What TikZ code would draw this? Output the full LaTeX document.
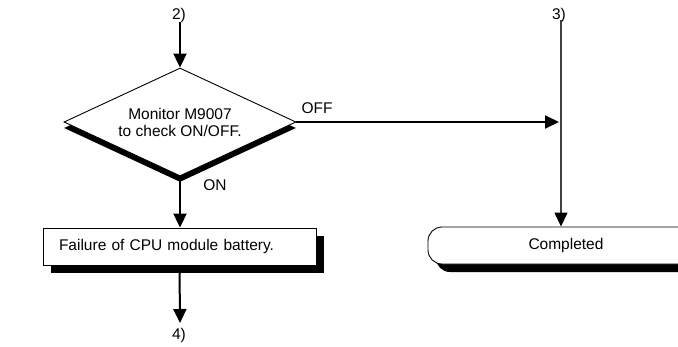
\documentclass[tikz,border=0pt]{standalone}
\usepackage{fontspec}
\setmainfont{Liberation Sans}
\usetikzlibrary{arrows.meta,shapes.geometric,shadows,calc}
\tikzset{
  flow/.style={line width=2pt,-{Triangle[length=14pt,width=13pt]}},
  thinflow/.style={line width=1.4pt,draw=black!75,-{Triangle[length=14pt,width=13pt,fill=black,color=black]}},
  txt/.style={font=\fontsize{15.5}{17}\selectfont},
  lbl/.style={txt,inner sep=0pt},
  decision/.style={diamond,aspect=2.15,draw,line width=0.9pt,fill=white,inner sep=0pt,
    minimum width=232pt,minimum height=108pt,align=center,txt,
    drop shadow={shadow xshift=0pt,shadow yshift=-6pt,fill=black,opacity=1}},
  procbox/.style={rectangle,draw,line width=0.9pt,fill=white,
    minimum height=37pt,text width=241pt,inner xsep=16pt,align=left,txt,
    drop shadow={shadow xshift=8pt,shadow yshift=-8pt,fill=black,opacity=1}},
  termbox/.style={rectangle,rounded corners=14pt,draw,line width=0.9pt,fill=white,
    minimum height=37pt,minimum width=276pt,txt,
    drop shadow={shadow xshift=8pt,shadow yshift=-8pt,fill=black,opacity=1}},
}
\begin{document}
\begin{tikzpicture}[x=1pt,y=-1pt]
\useasboundingbox (0,0) rectangle (678,346);
\clip (0,0) rectangle (678,346);
% labels
\node[lbl] (lab2) at (179,15) {2)};
\node[lbl] (lab3) at (559,15) {3)};
\node[lbl] (lab4) at (179,335) {4)};
\coordinate (top2) at (180,22);
\coordinate (top3) at (561,20);
\coordinate (end4) at (180,323);
% shapes
\node[decision] (dec) at (180,122) {Monitor M9007\\to check ON/OFF.};
\node[procbox] (fail) at (179.5,246.5) {Failure of CPU module battery.};
\node[termbox] (done) at (566,245.5) {Completed};
% connectors
\draw[flow] (top2) -- (dec.north);
\draw[flow] (dec.south) -- (dec.south |- fail.north);
\node[lbl] (on) at (215,185) {ON};
\draw[flow] (fail.south) -- (end4);
\draw[flow] (dec.east) -- ($(dec.east -| top3)+(-2,0)$) coordinate (offend);
\node[lbl] (off) at (317,108) {OFF};
\draw[thinflow] (top3) -- (top3 |- done.north);
\end{tikzpicture}
\end{document}
